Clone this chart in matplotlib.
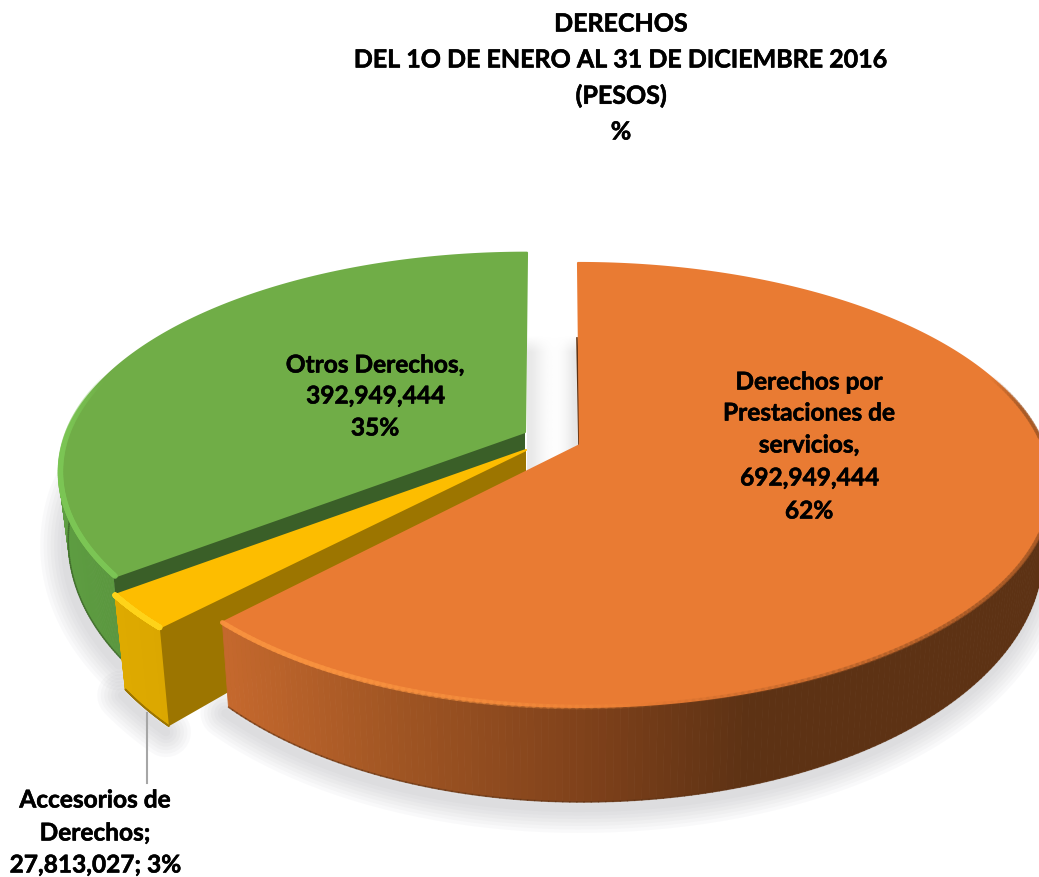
# -*- coding: utf-8 -*-
"""Exploded 3D style pie of the DERECHOS income, drawn from the slice values
"""
import numpy as np
import matplotlib
matplotlib.use('Agg')
import matplotlib.pyplot as plt
import matplotlib.patheffects as pe
from matplotlib.collections import PolyCollection, LineCollection
from matplotlib.colors import to_rgb

title_lines = ['DERECHOS', 'DEL 1O DE ENERO AL 31 DE DICIEMBRE 2016', '(PESOS)', '%']
values = [692949444, 27813027, 392949444]
pcts = [62, 3, 35]

plt.rcParams['font.family'] = ['Lato', 'DejaVu Sans']

# slice look: orange, yellow, green
apex = [(580, 445), (526, 450), (525, 432)]
left_scale = [1.0, 1.02, 1.018]
right_scale = [1.029, 1.0, 1.0]
back_scale = [1.0, 1.0, 0.985]
lean = [-2, 0, 2]
extra_depth = [0, 14, 2]
bottom_x = [0.983, 0.975, 0.98]
top_col = ['#E97B33', '#FDBD00', '#70AD47']
cut_col = ['#5E3213', '#9C7500', '#3A5F28']

# perspective of the pie disc, in pixels of the picture
R, R2, k = 450., 214.8, 0.18


def depth(y, i):
    return 58 - 37 * np.minimum(y, 0) + extra_depth[i]


def project(theta, i, bottom=False):
    t = np.radians(theta)
    x, y = np.sin(t), np.cos(t)
    s = 1 / (1 + k * y)
    px = R * np.where(x > 0, right_scale[i], left_scale[i]) * x * s + lean[i] * y
    py = R2 * np.where(y > 0, back_scale[i], 1.) * y * s
    c = apex[i]
    if bottom:
        return c[0] + bottom_x[i] * px, c[1] - py + depth(y, i)
    return c[0] + px, c[1] - py


def side_colors(xs, stops_x, stops_rgb):
    rgb = np.array(stops_rgb) / 255
    return np.column_stack([np.interp(xs, stops_x, rgb[:, j]) for j in range(3)])


def fade_line(ax, xs, ys, color, alpha, lw, z):
    # rim line whose opacity follows the alpha array
    pts = np.column_stack([xs, ys])
    segs = np.stack([pts[:-1], pts[1:]], axis=1)
    rgba = np.zeros((len(segs), 4))
    rgba[:, :3] = to_rgb(color)
    rgba[:, 3] = alpha[:-1]
    ax.add_collection(LineCollection(segs, colors=rgba, linewidths=lw, zorder=z,
                                     capstyle='round'))


side_stops = [
    ([230, 400, 600, 750], [(196, 104, 45), (160, 85, 35), (125, 64, 26), (93, 50, 20)]),
    ([115, 175], [(222, 170, 0), (218, 166, 0)]),
    ([55, 120], [(94, 158, 66), (90, 150, 62)]),
]

fig = plt.figure(figsize=(10.39, 8.77), dpi=100)
ax = fig.add_axes([0, 0, 1, 1])
ax.set_xlim(0, 1039)
ax.set_ylim(877, 0)
ax.axis('off')

# slice angles from the values, clockwise from 12 o'clock
fracs = np.array(values) / sum(values) * 360
starts = np.concatenate([[0], np.cumsum(fracs)[:-1]])
ends = np.cumsum(fracs)

# soft shadow in the gap behind the slices
xx, yy = np.meshgrid(np.linspace(0, 1, 60), np.linspace(0, 1, 60))
gap = np.zeros((60, 60, 4))
gap[..., :3] = 0.80
gap[..., 3] = (0.45 * np.exp(-(xx / 0.3) ** 2) + 0.5 * np.exp(-((1 - xx) / 0.25) ** 2)) \
    * np.clip(yy / 0.12, 0, 1)
ax.imshow(gap, extent=(527, 579, 470, 335), aspect='auto', zorder=1, interpolation='bilinear')

# shadow under the front rims
for i in range(3):
    a0 = max(starts[i], 85)
    th = np.linspace(a0, min(ends[i], 275), 150)
    xs, ys = project(th, i, bottom=True)
    for lw in range(36, 2, -5):
        ax.plot(xs - 3, ys + 6, color='#7f7f88', lw=lw, alpha=0.04, zorder=1,
                solid_capstyle='round')

# back to front: green, yellow, orange
for z, i in enumerate([2, 1, 0]):
    base = 2 + z * 5
    th = np.linspace(starts[i], ends[i], 300)
    c = apex[i]
    tx, ty = project(th, i)
    bx, by = project(th, i, bottom=True)

    # outer wall, only the part facing the viewer
    idx = np.where((th > 80) & (th < 280))[0]
    quads, xmid = [], []
    for a, b in zip(idx[:-1], idx[1:]):
        quads.append([(tx[a], ty[a]), (tx[b], ty[b]), (bx[b], by[b]), (bx[a], by[a])])
        xmid.append(tx[a])
    cols = side_colors(xmid, *side_stops[i])
    ax.add_collection(PolyCollection(quads, facecolors=cols, edgecolors=cols, lw=0.6,
                                     zorder=base))
    # darker line along the foot of the wall
    fade_line(ax, bx[idx], by[idx], cut_col[i], np.full(len(idx), 0.5), 1.2, base)

    # cut face at the slice's first radius seen from the front
    ex, ey = project(starts[i], i)
    fx, fy = project(starts[i], i, bottom=True)
    ax.fill([c[0], ex, fx, c[0]], [c[1], ey, fy, c[1] + depth(0, i)], color=cut_col[i],
            lw=0, zorder=base + 1)

    # top face with rounded joins
    ax.fill(np.r_[c[0], tx], np.r_[c[1], ty], facecolor=top_col[i], edgecolor=top_col[i],
            lw=1.5, joinstyle='round', zorder=base + 2)

    # bevel along the rim, fading out along the arc
    if i == 0:
        alpha = 0.9 * np.clip((th - 170) / 40, 0, 1)
        fade_line(ax, tx, ty, '#F8923F', alpha, 3.5, base + 3)
        alpha = 0.55 * np.clip((175 - th) / 40, 0, 1) * np.clip((th - 70) / 10, 0, 1)
        fade_line(ax, tx, ty, '#9C5424', alpha, 3, base + 3)
    elif i == 1:
        fade_line(ax, tx, ty, '#FFD41A', np.full(len(th), 0.9), 4, base + 3)
    else:
        alpha = 0.9 * np.clip((285 - th) / 30, 0, 1)
        fade_line(ax, tx + 1.5, ty - 1, '#7CC655', alpha, 4, base + 3)

# dark sliver on the orange back edge
ex, ey = project(0, 0)
ax.plot([ex - 1, apex[0][0] - 1], [ey + 75, apex[0][1]], color=cut_col[0], lw=1.2, zorder=1.5)

# labels
ax.plot([147, 147], [713, 783], color='#A6A6A6', lw=1.5, zorder=20)
labels = [
    (['Derechos por', 'Prestaciones de', 'servicios,', f'{values[0]:,}', f'{pcts[0]}%'],
     809, [382, 413, 445, 478, 511]),
    (['Accesorios de', 'Derechos;', f'{values[1]:,}; {pcts[1]}%'], 95, [800, 833, 865]),
    (['Otros Derechos,', f'{values[2]:,}', f'{pcts[2]}%'], 375, [365, 396, 428]),
]
bold = [pe.withStroke(linewidth=0.4, foreground='black')]
for lines, x, ys in labels:
    for line, y in zip(lines, ys):
        ax.text(x, y, line, ha='center', va='center', fontsize=17.6, fontweight='bold',
                color='black', zorder=30, path_effects=bold)

for line, y in zip(title_lines, [24, 60, 96, 132]):
    ax.text(621, y, line, ha='center', va='center', fontsize=18, fontweight='bold',
            color='black', zorder=30, path_effects=bold)

fig.savefig('out.png', dpi=100)
